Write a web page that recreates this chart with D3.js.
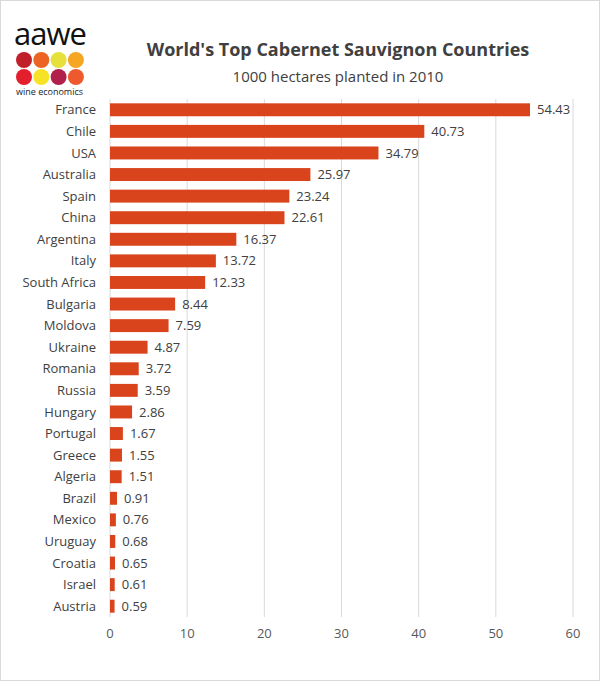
<!DOCTYPE html>
<html><head><meta charset="utf-8">
<script src="https://cdn.jsdelivr.net/npm/d3@7"></script>
<style>body{margin:0;background:#fff}</style></head>
<body><svg id="c" width="600" height="681"></svg>
<script>
const countries=["France","Chile","USA","Australia","Spain","China","Argentina","Italy","South Africa","Bulgaria","Moldova","Ukraine","Romania","Russia","Hungary","Portugal","Greece","Algeria","Brazil","Mexico","Uruguay","Croatia","Israel","Austria"];
const values=[54.43,40.73,34.79,25.97,23.24,22.61,16.37,13.72,12.33,8.44,7.59,4.87,3.72,3.59,2.86,1.67,1.55,1.51,0.91,0.76,0.68,0.65,0.61,0.59];
const ticks=[0,10,20,30,40,50,60];
const logoColors=["#C0202A","#EB6424","#E5E03A","#F5A623","#E31E2D","#F7E326","#B0204A","#EE5A2E"];
const svg=d3.select("#c");
const font="'Open Sans', sans-serif";
svg.append("rect").attr("x",0.5).attr("y",0.5).attr("width",599).attr("height",680).attr("fill","#fff").attr("stroke","#d9d9d9");
const x=d3.scaleLinear().domain([0,60]).range([110,573]);
const y=d3.scaleBand().domain(countries).range([99,617]).paddingInner(0.4).paddingOuter(0.2);
const g=svg.append("g");
g.selectAll("line.grid").data(ticks).join("line").attr("x1",d=>x(d)).attr("x2",d=>x(d)).attr("y1",99).attr("y2",617).attr("stroke","#d9d9d9").attr("stroke-width",1);
g.selectAll("rect.bar").data(values).join("rect").attr("x",x(0)).attr("y",(d,i)=>y(countries[i])).attr("width",d=>x(d)-x(0)).attr("height",y.bandwidth()).attr("fill","#D9441C");
g.selectAll("text.val").data(values).join("text").attr("x",d=>x(d)+7).attr("y",(d,i)=>y(countries[i])+y.bandwidth()/2).attr("dy","0.35em").attr("font-family",font).attr("font-size",13).attr("fill","#404040").text(d=>d.toFixed(2));
g.selectAll("text.cat").data(countries).join("text").attr("x",96).attr("y",d=>y(d)+y.bandwidth()/2).attr("dy","0.35em").attr("text-anchor","end").attr("font-family",font).attr("font-size",13).attr("fill","#404040").text(d=>d);
g.selectAll("text.tick").data(ticks).join("text").attr("x",d=>x(d)).attr("y",638).attr("text-anchor","middle").attr("font-family",font).attr("font-size",13).attr("fill","#595959").text(d=>d);
svg.append("text").attr("x",338).attr("y",56).attr("text-anchor","middle").attr("font-family",font).attr("font-weight","bold").attr("font-size",18).attr("fill","#404040").text("World's Top Cabernet Sauvignon Countries");
svg.append("text").attr("x",338).attr("y",82).attr("text-anchor","middle").attr("font-family",font).attr("font-size",15).attr("fill","#404040").text("1000 hectares planted in 2010");
// logo
svg.append("text").attr("x",14).attr("y",45).attr("font-family",font).attr("font-size",31).attr("fill","#111").attr("letter-spacing","-1").text("aawe");
svg.selectAll("circle.logo").data(logoColors).join("circle").attr("cx",(d,i)=>24+(i%4)*17.3).attr("cy",(d,i)=>60+Math.floor(i/4)*17).attr("r",8).attr("fill",d=>d);
svg.append("text").attr("x",16).attr("y",95).attr("font-family",font).attr("font-size",9).attr("fill","#222").text("wine economics");
</script></body></html>
